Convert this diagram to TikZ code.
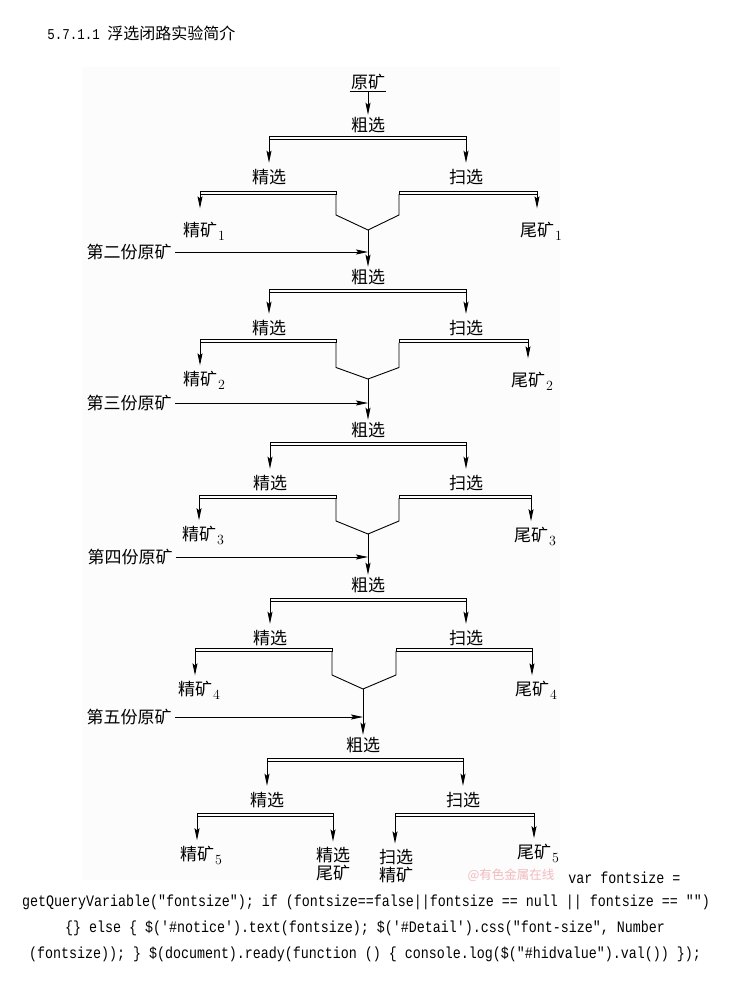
\documentclass[tikz,border=0pt]{standalone}
\usepackage{fontspec}
\newfontfamily\cjk{Noto Sans CJK SC}
\newfontfamily\codefont[FakeStretch=0.833]{Liberation Mono}
\usetikzlibrary{arrows.meta}
\definecolor{wmpink}{RGB}{242,186,190}
\definecolor{picbg}{RGB}{252,252,252}
\tikzset{
  lbl/.style={font=\cjk\fontsize{17}{17}\selectfont, inner sep=2pt},
  twoline/.style={font=\cjk\fontsize{17}{18.5}\selectfont, inner sep=2pt, align=center},
  feed/.style={lbl, inner sep=3pt},
  bar/.style={draw, inner sep=0pt, outer sep=0pt, minimum height=3pt},
  arr/.style={-{Stealth[length=12pt,width=5pt,inset=2pt]}},
  code/.style={font=\codefont\fontsize{16}{16}\selectfont, inner sep=0pt}
}
\newcommand{\subno}[1]{\rlap{\kern1pt\raisebox{-4pt}{\rmfamily\fontsize{14}{14}\selectfont #1}}}

\begin{document}
\begin{tikzpicture}[x=1pt, y=-1pt, line width=0.9pt]
	\useasboundingbox (0,0) rectangle (730,1003);
	\fill[picbg] (82,67) rectangle (560,880);
	\node[anchor=west, inner sep=0pt] (title) at (47,33) {{\codefont\fontsize{15}{15}\selectfont 5.7.1.1 }{\cjk\fontsize{16}{16}\selectfont 浮选闭路实验简介}};
	% first round
	\node[lbl, inner sep=1pt] (ore) at (368,82) {原矿};
	\draw (ore.south west) -- (ore.south east);
	\node[lbl] (cu1) at (368,125) {粗选};
	\draw[arr] (ore.south) -- (cu1);
	\node[bar, minimum width=197pt] (r1) at (367.5,137.5) {};
	\node[lbl] (jx1) at (269,177) {精选};
	\node[lbl] (sx1) at (466,177) {扫选};
	\draw[arr, shorten >=4pt] (r1.south west) -- (jx1);
	\draw[arr, shorten >=4pt] (r1.south east) -- (sx1);
	\node[bar, minimum width=136pt] (l1) at (268,192.5) {};
	\node[bar, minimum width=138pt] (s1) at (468,192.5) {};
	\node[lbl] (jk1) at (200,231) {精矿\subno{1}};
	\node[lbl] (wk1) at (537,231) {尾矿\subno{1}};
	\draw[arr, shorten >=11pt] (l1.south west) -- (jk1);
	\draw[arr, shorten >=11pt] (s1.south east) -- (wk1);
	\coordinate (m1) at (368,230);
	\draw (l1.south east) -- ++(0,21) -- (m1);
	\draw (s1.south west) -- ++(0,21) -- (m1);
	\node[feed] (f2) at (129,252) {第二份原矿};
	\draw[arr] (f2) -- (f2 -| m1);
	\node[lbl] (cu2) at (368,277) {粗选};
	\draw[arr] (m1) -- (cu2);
	% second round
	\node[bar, minimum width=197pt] (r2) at (367.5,290.5) {};
	\node[lbl] (jx2) at (269,328) {精选};
	\node[lbl] (sx2) at (466,328) {扫选};
	\draw[arr, shorten >=4pt] (r2.south west) -- (jx2);
	\draw[arr, shorten >=4pt] (r2.south east) -- (sx2);
	\node[bar, minimum width=136pt] (l2) at (268,341) {};
	\node[bar, minimum width=129pt] (s2) at (463.5,341) {};
	\node[lbl] (jk2) at (200,380) {精矿\subno{2}};
	\node[lbl] (wk2) at (528,381) {尾矿\subno{2}};
	\draw[arr, shorten >=3pt] (l2.south west) -- (jk2);
	\draw[arr, shorten >=11pt] (s2.south east) -- (wk2);
	\coordinate (m2) at (368,379);
	\draw (l2.south east) -- ++(0,25) -- (m2);
	\draw (s2.south west) -- ++(0,25) -- (m2);
	\node[feed] (f3) at (129,403) {第三份原矿};
	\draw[arr] (f3) -- (f3 -| m2);
	\node[lbl] (cu3) at (368,430) {粗选};
	\draw[arr] (m2) -- (cu3);
	% third round
	\node[bar, minimum width=196pt] (r3) at (368,443.5) {};
	\node[lbl] (jx3) at (270,483) {精选};
	\node[lbl] (sx3) at (466,483) {扫选};
	\draw[arr, shorten >=4pt] (r3.south west) -- (jx3);
	\draw[arr, shorten >=4pt] (r3.south east) -- (sx3);
	\node[bar, minimum width=137pt] (l3) at (267.5,496.5) {};
	\node[bar, minimum width=132pt] (s3) at (465,496.5) {};
	\node[lbl] (jk3) at (199,535) {精矿\subno{3}};
	\node[lbl] (wk3) at (531,536) {尾矿\subno{3}};
	\draw[arr, shorten >=3pt] (l3.south west) -- (jk3);
	\draw[arr, shorten >=3pt] (s3.south east) -- (wk3);
	\coordinate (m3) at (368,534);
	\draw (l3.south east) -- ++(0,23) -- (m3);
	\draw (s3.south west) -- ++(0,23) -- (m3);
	\node[feed] (f4) at (130,557) {第四份原矿};
	\draw[arr] (f4) -- (f4 -| m3);
	\node[lbl] (cu4) at (368,585) {粗选};
	\draw[arr] (m3) -- (cu4);
	% fourth round
	\node[bar, minimum width=196pt] (r4) at (368,599.5) {};
	\node[lbl] (jx4) at (270,638) {精选};
	\node[lbl] (sx4) at (466,638) {扫选};
	\draw[arr, shorten >=4pt] (r4.south west) -- (jx4);
	\draw[arr, shorten >=4pt] (r4.south east) -- (sx4);
	\node[bar, minimum width=137pt] (l4) at (263.5,649.5) {};
	\node[bar, minimum width=136pt] (s4) at (464,649.5) {};
	\node[lbl] (jk4) at (195,690) {精矿\subno{4}};
	\node[lbl] (wk4) at (532,690) {尾矿\subno{4}};
	\draw[arr, shorten >=3pt] (l4.south west) -- (jk4);
	\draw[arr, shorten >=3pt] (s4.south east) -- (wk4);
	\coordinate (m4) at (363,689);
	\draw (l4.south east) -- ++(0,24) -- (m4);
	\draw (s4.south west) -- ++(0,24) -- (m4);
	\node[feed] (f5) at (129,717) {第五份原矿};
	\draw[arr] (f5) -- (f5 -| m4);
	\node[lbl] (cu5) at (363,745) {粗选};
	\draw[arr] (m4) -- (cu5);
	% fifth round
	\node[bar, minimum width=196pt] (r5) at (365,759.5) {};
	\node[lbl] (jx5) at (267,800) {精选};
	\node[lbl] (sx5) at (463,800) {扫选};
	\draw[arr, shorten >=4pt] (r5.south west) -- (jx5);
	\draw[arr, shorten >=4pt] (r5.south east) -- (sx5);
	\node[bar, minimum width=136pt] (l5) at (265,814.5) {};
	\node[bar, minimum width=139pt] (s5) at (464.5,814.5) {};
	\node[lbl] (jk5) at (197,855) {精矿\subno{5}};
	\node[twoline] (jw5) at (333,864) {精选\\尾矿};
	\node[twoline] (sj5) at (396,866) {扫选\\精矿};
	\node[lbl] (wk5) at (534,853) {尾矿\subno{5}};
	\draw[arr, shorten >=3pt] (l5.south west) -- (jk5);
	\draw[arr, shorten >=3pt] (l5.south east) -- (l5.south east |- jw5.north);
	\draw[arr, shorten >=3pt] (s5.south west) -- (s5.south west |- sj5.north);
	\draw[arr, shorten >=3pt] (s5.south east) -- (wk5);
	\node[font=\cjk\fontsize{12.5}{12.5}\selectfont, text=wmpink, inner sep=0pt] (wm) at (511,875) {@有色金属在线};
	% page text after the picture
	\node[code, anchor=west] (c1) at (568,878) {var fontsize =};
	\node[code] (c2) at (366,902) {getQueryVariable("fontsize"); if (fontsize==false||fontsize == null || fontsize == "")};
	\node[code] (c3) at (365,928) {\{\} else \{ \$('\#notice').text(fontsize); \$('\#Detail').css("font-size", Number};
	\node[code] (c4) at (365,954) {(fontsize)); \} \$(document).ready(function () \{ console.log(\$("\#hidvalue").val()) \});};
\end{tikzpicture}
\end{document}
